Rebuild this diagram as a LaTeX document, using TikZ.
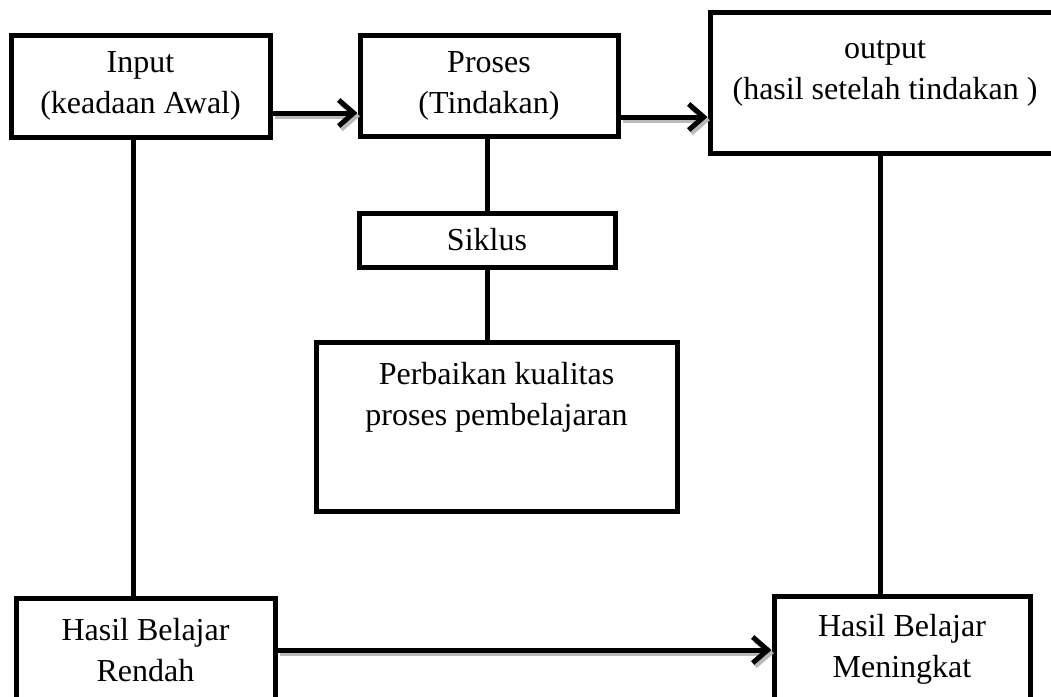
\documentclass[tikz,border=0pt]{standalone}
\usepackage{fontspec}
\setmainfont{Liberation Serif}
\usetikzlibrary{positioning, arrows.meta}

\begin{document}
\begin{tikzpicture}[x=0.5pt, y=-0.5pt, line width=2.5pt,
    box/.style={rectangle, draw, align=center, font=\fontsize{16}{20.5}\selectfont, inner sep=0pt},
    toptext/.style={anchor=north, align=center, font=\fontsize{16}{20.5}\selectfont, inner sep=0pt},
    flow/.style={-{Straight Barb[length=7.5pt, width=13pt]}, preaction={draw=gray!55, transform canvas={xshift=1.2pt, yshift=-1.6pt}}}]
    \clip (0,0) rectangle (1051,697);
    % top row
    \node[box, minimum width=129.5pt, minimum height=51pt] (inp) at (140.5,86) {Input\\(keadaan Awal)};
    \node[box, minimum width=129pt, minimum height=50.5pt] (pros) at (489,85.5) {Proses\\(Tindakan)};
    \node[box, minimum width=175pt, minimum height=70.5pt, label={[toptext, yshift=-14pt]north:output\\(hasil setelah tindakan )}] (outp) at (885,82.5) {};
    % middle
    \node[box, minimum width=128pt, minimum height=27pt, below=36pt of pros, xshift=-1pt] (sik) {Siklus};
    \node[box, minimum width=180.5pt, minimum height=84.5pt, label={[toptext, yshift=-10pt]north:Perbaikan kualitas\\proses pembelajaran}] (perb) at (496.5,426.5) {};
    % bottom row
    \node[box, minimum width=129.5pt, minimum height=52pt] (rend) at (145.5,650) {Hasil Belajar\\Rendah};
    \node[box, minimum width=128pt, minimum height=53pt] (men) at (902,649) {Hasil Belajar\\Meningkat};
    % connectors
    \draw[flow] ([yshift=-13.5pt]inp.east) coordinate (a1) -- (a1 -| pros.west);
    \draw[flow] ([yshift=-15.75pt]pros.east) coordinate (a2) -- (a2 -| outp.west);
    \draw (sik.north) -- (sik.north |- pros.south);
    \draw (sik.south) -- (sik.south |- perb.north);
    \draw ([xshift=-3.75pt]inp.south) coordinate (a3) -- (a3 |- rend.north);
    \draw ([xshift=-2.5pt]outp.south) coordinate (a4) -- (a4 |- men.north);
    \draw[flow] (rend.east) -- (rend.east -| men.west);
\end{tikzpicture}
\end{document}
